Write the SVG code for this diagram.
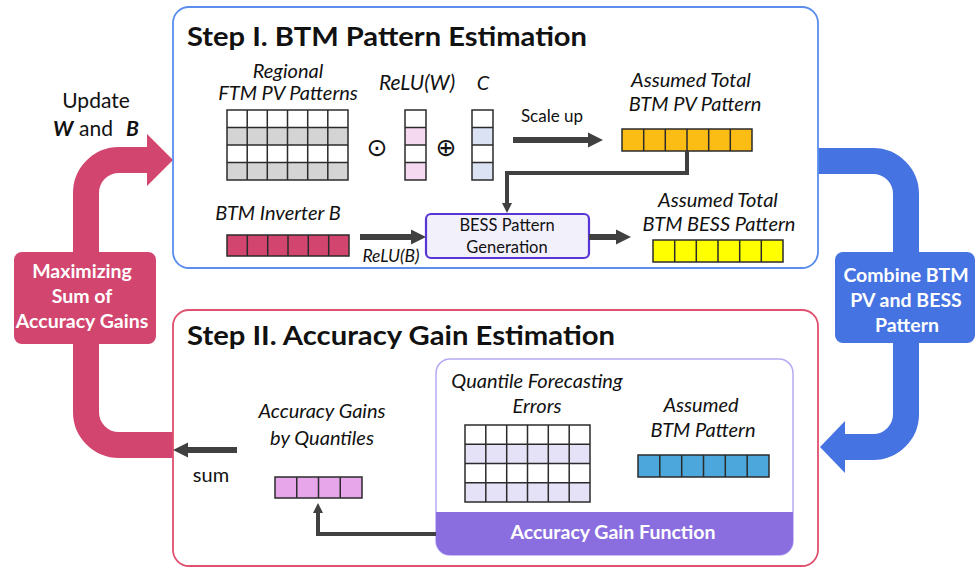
<svg xmlns="http://www.w3.org/2000/svg" width="976" height="568" viewBox="0 0 976 568">
<style>
  text { font-family: Lato, "Open Sans", "Liberation Sans", sans-serif; fill: #111; }
  .title { font-size: 27px; font-weight: 700; }
  .lbl { font-size: 20px; font-style: italic; text-anchor: middle; }
  .reg { font-size: 17px; text-anchor: middle; }
  .wt { font-size: 19.5px; font-weight: 700; fill: #fff; text-anchor: middle; }
  .sym { font-family: "DejaVu Sans", sans-serif; font-size: 25px; text-anchor: middle; }
  .gl { fill: none; stroke: #2b2b2b; stroke-width: 1.5; }
  .dk { fill: none; stroke: #404040; }
  .band { fill: none; stroke-width: 26; }
</style>
<defs>
  <marker id="ah" viewBox="0 0 10 10" refX="0" refY="5" markerWidth="2.5" markerHeight="2.7" orient="auto" markerUnits="strokeWidth">
    <path d="M0,0 L10,5 L0,10 Z" fill="#404040"/>
  </marker>
</defs>

<!-- feedback bands -->
<g id="loop-left">
  <path class="band" stroke="#d2456f" d="M173,445 H119 A33,33 0 0 1 86,412 V193 A33,33 0 0 1 119,160 H148"/>
  <polygon points="147,134 173,160 147,186" fill="#d2456f"/>
</g>
<g id="loop-right">
  <path class="band" stroke="#4573e2" d="M818,161 H873 A33,33 0 0 1 906,194 V414 A33,33 0 0 1 873,447 H843"/>
  <polygon points="845,421 820,447 845,473" fill="#4573e2"/>
</g>

<!-- Step I box -->
<g id="step1">
  <rect x="173" y="7" width="645" height="261" rx="16" fill="#fff" stroke="#5b8def" stroke-width="1.8"/>
  <text class="title" x="187" y="46" textLength="400" lengthAdjust="spacingAndGlyphs">Step I. BTM Pattern Estimation</text>
</g>

<!-- Step II box -->
<g id="step2">
  <rect x="173" y="310" width="645" height="256" rx="16" fill="#fff" stroke="#e0506f" stroke-width="1.8"/>
  <text class="title" x="187" y="345" textLength="428" lengthAdjust="spacingAndGlyphs">Step II. Accuracy Gain Estimation</text>
</g>

<!-- Maximizing box -->
<g id="maximize">
  <rect x="14" y="252" width="142" height="92" rx="8" fill="#d2456f"/>
  <text class="wt" x="82" y="278">Maximizing</text>
  <text class="wt" x="82" y="303">Sum of</text>
  <text class="wt" x="82" y="328">Accuracy Gains</text>
</g>

<!-- Combine box -->
<g id="combine">
  <rect x="835" y="252" width="140" height="91" rx="8" fill="#4573e2"/>
  <text class="wt" x="906" y="282">Combine BTM</text>
  <text class="wt" x="906" y="307">PV and BESS</text>
  <text class="wt" x="907" y="332">Pattern</text>
</g>

<g id="update-label">
  <text class="reg" x="96" y="108" style="font-size:21px">Update</text>
  <text y="136" style="font-size:21px"><tspan x="53" font-weight="700" font-style="italic">W</tspan><tspan x="79">and</tspan><tspan x="126" font-weight="700" font-style="italic">B</tspan></text>
</g>

<!-- Regional FTM PV patterns -->
<g id="ftm">
  <text class="lbl" x="288" y="78">Regional</text>
  <text class="lbl" x="288" y="100">FTM PV Patterns</text>
  <rect x="227" y="110" width="121" height="70" fill="#fff"/>
  <rect x="227" y="127.5" width="121" height="17.5" fill="#d4d4d4"/>
  <rect x="227" y="162.5" width="121" height="17.5" fill="#d4d4d4"/>
  <path class="gl" d="M227,110 H348 V180 H227 Z M247.2,110 V180 M267.3,110 V180 M287.5,110 V180 M307.7,110 V180 M327.8,110 V180 M227,127.5 H348 M227,145 H348 M227,162.5 H348"/>
</g>

<text class="sym" x="377" y="156">⊙</text>

<g id="reluw">
  <text class="lbl" x="417" y="90" style="font-size:21px">ReLU(W)</text>
  <rect x="405" y="110" width="21" height="70" fill="#fff"/>
  <rect x="405" y="127.5" width="21" height="17.5" fill="#f4d9f0"/>
  <rect x="405" y="162.5" width="21" height="17.5" fill="#f4d9f0"/>
  <path class="gl" d="M405,110 H426 V180 H405 Z M405,127.5 H426 M405,145 H426 M405,162.5 H426"/>
</g>

<text class="sym" x="446" y="156">⊕</text>

<g id="cvec">
  <text class="lbl" x="483" y="90">C</text>
  <rect x="472" y="110" width="21" height="70" fill="#fff"/>
  <rect x="472" y="127.5" width="21" height="17.5" fill="#dae2f4"/>
  <rect x="472" y="162.5" width="21" height="17.5" fill="#dae2f4"/>
  <path class="gl" d="M472,110 H493 V180 H472 Z M472,127.5 H493 M472,145 H493 M472,162.5 H493"/>
</g>

<g id="pv-total">
  <text class="lbl" x="691" y="87">Assumed Total</text>
  <text class="lbl" x="695" y="111">BTM PV Pattern</text>
  <rect x="622" y="129" width="130" height="22" fill="#fbbc13"/>
  <path class="gl" d="M622,129 H752 V151 H622 Z M643.7,129 V151 M665.3,129 V151 M687,129 V151 M708.7,129 V151 M730.3,129 V151"/>
</g>

<g id="inverter">
  <text class="lbl" x="278" y="220">BTM Inverter B</text>
  <rect x="227" y="235" width="122" height="21" fill="#d2456f"/>
  <path class="gl" d="M227,235 H349 V256 H227 Z M247.3,235 V256 M267.7,235 V256 M288,235 V256 M308.3,235 V256 M328.7,235 V256"/>
</g>

<g id="bess-gen">
  <rect x="426" y="214" width="163" height="44" rx="5" fill="#f1f0fb" stroke="#5a35d5" stroke-width="2.2"/>
  <text class="reg" x="507" y="231" style="font-size:16.5px">BESS Pattern</text>
  <text class="reg" x="507" y="253" style="font-size:16.5px">Generation</text>
</g>

<g id="bess-total">
  <text class="lbl" x="718" y="207">Assumed Total</text>
  <text class="lbl" x="719" y="231">BTM BESS Pattern</text>
  <rect x="653" y="240" width="130" height="22" fill="#ffff00"/>
  <path class="gl" d="M653,240 H783 V262 H653 Z M674.7,240 V262 M696.3,240 V262 M718,240 V262 M739.7,240 V262 M761.3,240 V262"/>
</g>

<!-- Step II contents -->
<g id="gain-func">
  <rect x="436" y="359" width="357" height="196" rx="14" fill="#fff" stroke="#b8a9f2" stroke-width="1.5"/>
  <path d="M436,512 H793 V541 A14,14 0 0 1 779,555 H450 A14,14 0 0 1 436,541 Z" fill="#8a6ee0"/>
  <text class="wt" x="613" y="539">Accuracy Gain Function</text>
</g>

<g id="errors">
  <text class="lbl" x="537" y="388">Quantile Forecasting</text>
  <text class="lbl" x="537" y="413">Errors</text>
  <rect x="465" y="425" width="125" height="77" fill="#fff"/>
  <rect x="465" y="444.25" width="125" height="19.25" fill="#e5e2f7"/>
  <rect x="465" y="482.75" width="125" height="19.25" fill="#e5e2f7"/>
  <path class="gl" d="M465,425 H590 V502 H465 Z M485.8,425 V502 M506.7,425 V502 M527.5,425 V502 M548.3,425 V502 M569.2,425 V502 M465,444.25 H590 M465,463.5 H590 M465,482.75 H590"/>
</g>

<g id="btm-pattern">
  <text class="lbl" x="701" y="412">Assumed</text>
  <text class="lbl" x="703" y="437">BTM Pattern</text>
  <rect x="638" y="455" width="131" height="22" fill="#4ca7dd"/>
  <path class="gl" d="M638,455 H769 V477 H638 Z M659.8,455 V477 M681.7,455 V477 M703.5,455 V477 M725.3,455 V477 M747.2,455 V477"/>
</g>

<g id="gains">
  <text class="lbl" x="322" y="418">Accuracy Gains</text>
  <text class="lbl" x="322" y="445">by Quantiles</text>
  <rect x="275" y="477" width="87" height="21" fill="#e8a6ea"/>
  <path class="gl" d="M275,477 H362 V498 H275 Z M296.75,477 V498 M318.5,477 V498 M340.25,477 V498"/>
</g>

<text class="reg" x="211" y="482" style="font-size:20px">sum</text>
<text class="lbl" x="391" y="262" style="font-size:17.5px">ReLU(B)</text>
<text class="reg" x="552" y="122">Scale up</text>

<!-- connectors -->
<g id="connectors">
  <path class="dk" stroke-width="6" marker-end="url(#ah)" d="M513,140 H588"/>
  <path class="dk" stroke-width="6" marker-end="url(#ah)" d="M360,237 H411"/>
  <path class="dk" stroke-width="6" marker-end="url(#ah)" d="M589,237 H616"/>
  <path class="dk" stroke-width="6" marker-end="url(#ah)" d="M237,450 H188"/>
  <path class="dk" stroke-width="4" marker-end="url(#ah)" d="M687,151 V173 H507 V203"/>
  <path class="dk" stroke-width="4" marker-end="url(#ah)" d="M436,534 H318 V513"/>
</g>
</svg>
